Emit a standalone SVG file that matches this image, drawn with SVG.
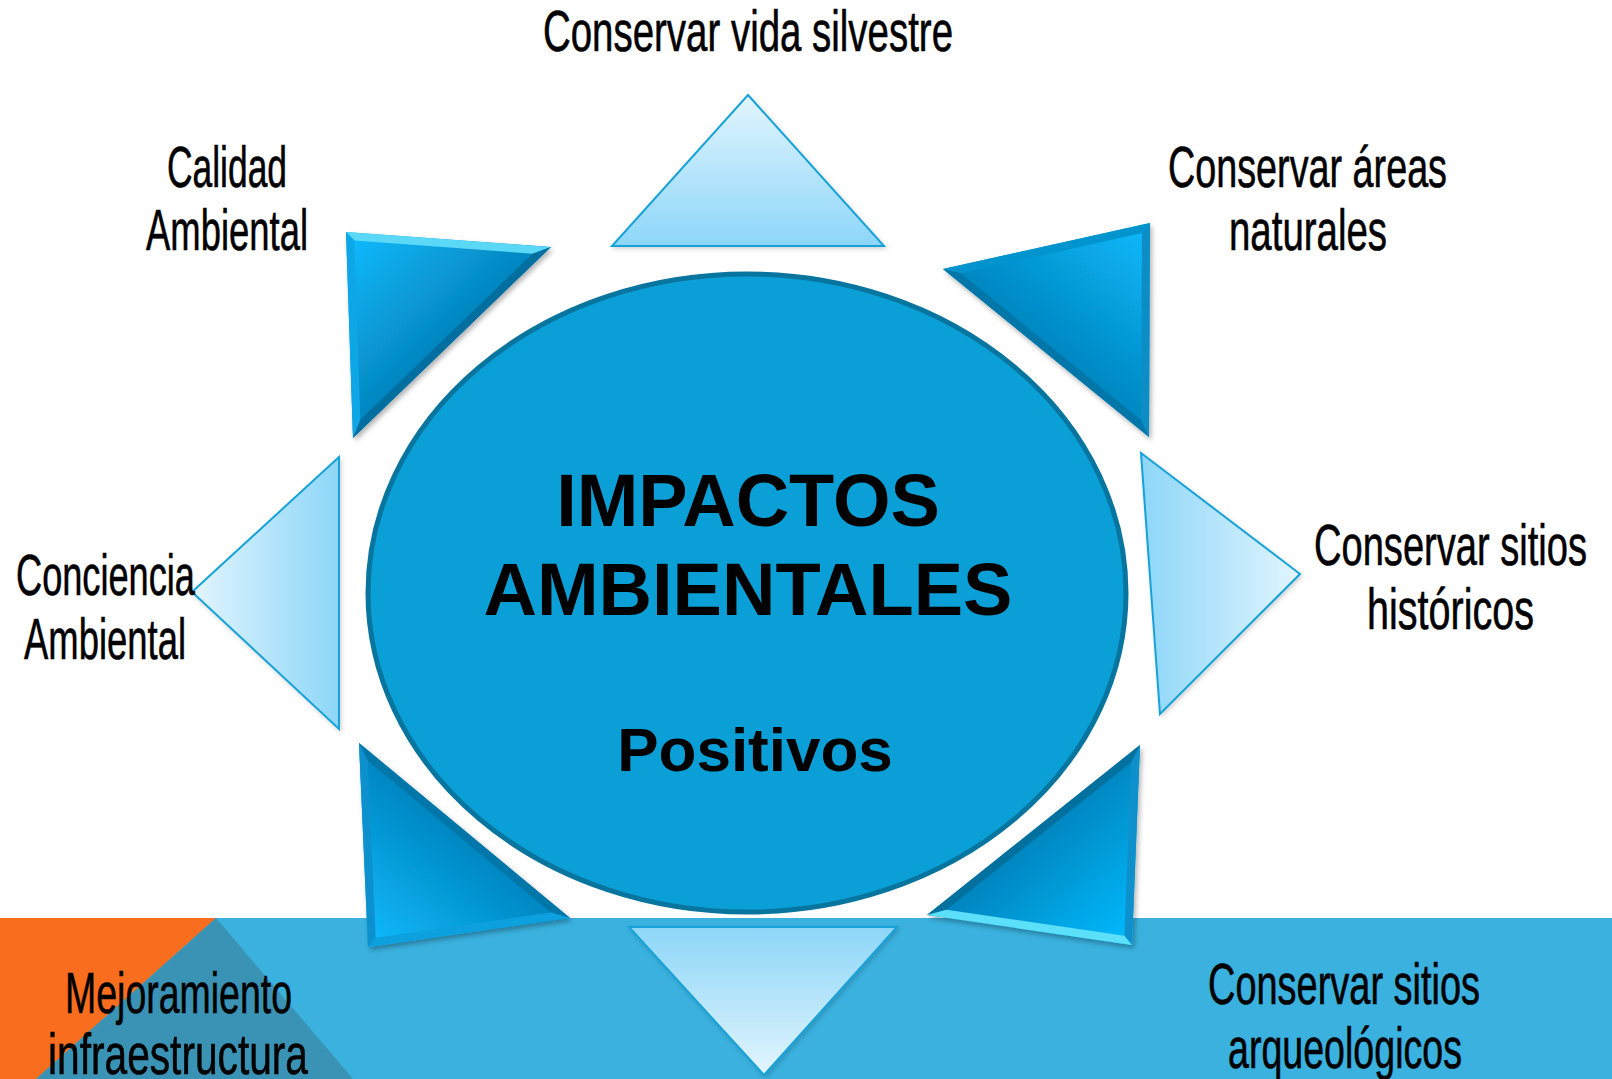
<svg xmlns="http://www.w3.org/2000/svg" width="1612" height="1079" viewBox="0 0 1612 1079">
<defs>
<style>
.lbl{font-family:"Liberation Sans","DejaVu Sans",sans-serif;font-size:57px;fill:#000;stroke:#000;stroke-width:0.6;text-anchor:start}
.main{font-family:"Liberation Sans",Arial,sans-serif;font-weight:bold;fill:#000;text-anchor:middle}
.light{stroke:#19A2D8;stroke-width:2;stroke-linejoin:miter}
</style>
<filter id="sh" x="-20%" y="-20%" width="140%" height="140%">
<feDropShadow dx="2" dy="3" stdDeviation="2.5" flood-color="#000" flood-opacity="0.3"/>
</filter>
<filter id="shl" x="-20%" y="-20%" width="140%" height="140%">
<feDropShadow dx="1.5" dy="2" stdDeviation="2" flood-color="#000" flood-opacity="0.18"/>
</filter>
<linearGradient id="lgTop" x1="0" y1="0" x2="0" y2="1"><stop offset="0" stop-color="#E2F5FE"/><stop offset="1" stop-color="#8DD6F8"/></linearGradient>
<linearGradient id="lgBot" x1="0" y1="0" x2="0" y2="1"><stop offset="0" stop-color="#8DD6F8"/><stop offset="1" stop-color="#E2F5FE"/></linearGradient>
<linearGradient id="lgLeft" x1="0" y1="0" x2="1" y2="0"><stop offset="0" stop-color="#E2F5FE"/><stop offset="1" stop-color="#8DD6F8"/></linearGradient>
<linearGradient id="lgRight" x1="0" y1="0" x2="1" y2="0"><stop offset="0" stop-color="#8DD6F8"/><stop offset="1" stop-color="#E2F5FE"/></linearGradient>
<linearGradient id="gTL" gradientUnits="userSpaceOnUse" x1="354" y1="241" x2="450" y2="340"><stop offset="0" stop-color="#0BB8FA"/><stop offset="1" stop-color="#0584BE"/></linearGradient>
<linearGradient id="gTR" gradientUnits="userSpaceOnUse" x1="1142" y1="233" x2="1050" y2="345"><stop offset="0" stop-color="#08B6F8"/><stop offset="1" stop-color="#0588C2"/></linearGradient>
<linearGradient id="gBL" gradientUnits="userSpaceOnUse" x1="376" y1="938" x2="460" y2="835"><stop offset="0" stop-color="#08B6F8"/><stop offset="1" stop-color="#0587C2"/></linearGradient>
<linearGradient id="gBR" gradientUnits="userSpaceOnUse" x1="1124" y1="936" x2="1035" y2="835"><stop offset="0" stop-color="#06B8FA"/><stop offset="1" stop-color="#0586C0"/></linearGradient>
</defs>

<g id="background">
<rect x="0" y="0" width="1612" height="1079" fill="#FFFFFF"/>
<rect x="0" y="918" width="1612" height="161" fill="#3AB1DF"/>
<polygon points="0,918 216,918 36,1079 0,1079" fill="#F96D1E"/>
<polygon points="216,918 353,1079 36,1079" fill="#3A93B4"/>
</g>

<g id="connectors"></g>

<g id="center">
<ellipse cx="747" cy="593" rx="379" ry="319" fill="#0AA0D7" stroke="#08759F" stroke-width="5"/>
<text class="main" x="748" y="526" font-size="74">IMPACTOS</text>
<text class="main" x="748" y="615" font-size="74">AMBIENTALES</text>
<text class="main" x="755" y="771" font-size="62">Positivos</text>
</g>

<g id="tri-top" filter="url(#shl)">
<polygon class="light" points="748,95 884,246 612,246" fill="url(#lgTop)"/>
</g>
<g id="tri-bottom" filter="url(#shl)">
<polygon class="light" points="629,927 897,927 764,1075" fill="url(#lgBot)"/>
</g>
<g id="tri-left" filter="url(#shl)">
<polygon class="light" points="192,592 339,457 339,729" fill="url(#lgLeft)"/>
</g>
<g id="tri-right" filter="url(#shl)">
<polygon class="light" points="1141,453 1300,574 1160,714" fill="url(#lgRight)"/>
</g>

<g id="tri-topleft" filter="url(#sh)">
<polygon points="346,232 551,247 353,438" fill="url(#gTL)"/>
<polygon points="346,232 551,247 532.5,253.7 354.3,240.6" fill="#5AD8F6"/>
<polygon points="346,232 354.3,240.6 360.4,419.7 353,438" fill="#0CA6E6"/>
<polygon points="551,247 353,438 360.4,419.7 532.5,253.7" fill="#066E9E"/>
</g>
<g id="tri-topright" filter="url(#sh)">
<polygon points="943,269 1150,223 1149,437" fill="url(#gTR)"/>
<polygon points="943,269 1150,223 1142,233 960.8,273.2" fill="#0694CE"/>
<polygon points="1150,223 1149,437 1141.1,420.2 1142,233" fill="#0B8DC6"/>
<polygon points="1149,437 943,269 960.8,273.2 1141.1,420.2" fill="#0677A8"/>
</g>
<g id="tri-bottomleft" filter="url(#sh)">
<polygon points="359,743 570,918 368,947" fill="url(#gBL)"/>
<polygon points="359,743 570,918 551,912.6 367.8,760.7" fill="#0677A8"/>
<polygon points="570,918 368,947 375.6,937.8 551,912.6" fill="#0AA0DE"/>
<polygon points="368,947 359,743 367.8,760.7 375.6,937.8" fill="#0A90CE"/>
</g>
<g id="tri-bottomright" filter="url(#sh)">
<polygon points="927,915 1140,745 1132,945" fill="url(#gBR)"/>
<polygon points="927,915 1140,745 1131.3,762.2 946.4,909.7" fill="#06709E"/>
<polygon points="1140,745 1132,945 1124.4,935.8 1131.3,762.2" fill="#0B90CC"/>
<polygon points="1132,945 927,915 946.4,909.7 1124.4,935.8" fill="#5CE0FA"/>
</g>

<g id="labels">
<text class="lbl" x="543" y="51" textLength="410" lengthAdjust="spacingAndGlyphs">Conservar vida silvestre</text>
<text class="lbl" x="167" y="187" textLength="120" lengthAdjust="spacingAndGlyphs">Calidad</text>
<text class="lbl" x="146" y="250" textLength="162" lengthAdjust="spacingAndGlyphs">Ambiental</text>
<text class="lbl" x="1168" y="187" textLength="279" lengthAdjust="spacingAndGlyphs">Conservar áreas</text>
<text class="lbl" x="1229" y="250" textLength="158" lengthAdjust="spacingAndGlyphs">naturales</text>
<text class="lbl" x="16" y="595" textLength="179" lengthAdjust="spacingAndGlyphs">Conciencia</text>
<text class="lbl" x="24" y="659" textLength="162" lengthAdjust="spacingAndGlyphs">Ambiental</text>
<text class="lbl" x="1314" y="565" textLength="273" lengthAdjust="spacingAndGlyphs">Conservar sitios</text>
<text class="lbl" x="1367" y="629" textLength="167" lengthAdjust="spacingAndGlyphs">históricos</text>
<text class="lbl" x="1208" y="1004" textLength="272" lengthAdjust="spacingAndGlyphs">Conservar sitios</text>
<text class="lbl" x="1228" y="1068" textLength="234" lengthAdjust="spacingAndGlyphs">arqueológicos</text>
<text class="lbl" x="65" y="1013" textLength="227" lengthAdjust="spacingAndGlyphs">Mejoramiento</text>
<text class="lbl" x="48" y="1074" textLength="260" lengthAdjust="spacingAndGlyphs">infraestructura</text>
</g>
</svg>
